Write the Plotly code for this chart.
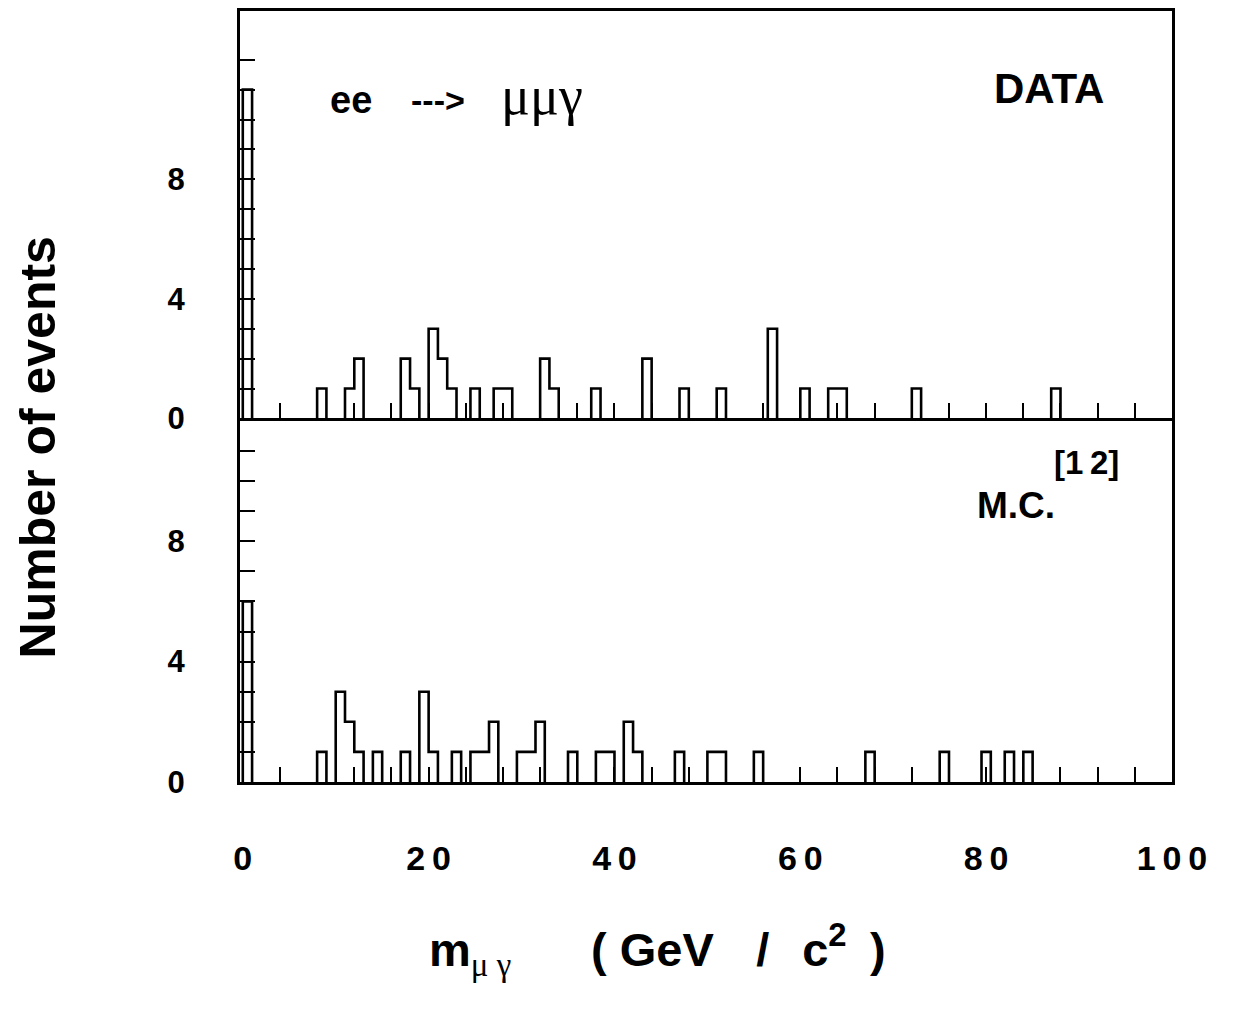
import plotly.graph_objects as go

# ---------------- data ----------------
bin_width = 1.0  # GeV

# DATA panel: start of each group of adjacent bins, and the counts in those bins
data_starts = [0, 8, 11, 17, 20, 24.5, 27, 32, 37.5, 43, 47, 51, 56.5, 60, 63, 72, 87]
data_counts = [[11], [1], [1, 2], [2, 1], [3, 2, 1], [1], [1, 1], [2, 1], [1], [2],
               [1], [1], [3], [1], [1, 1], [1], [1]]

# M.C. panel
mc_starts = [0, 8, 10, 14, 17, 19, 22.5, 24.5, 29.5, 35, 38, 41, 46.5, 50, 55, 67, 75,
             79.5, 82, 84]
mc_counts = [[6], [1], [3, 2, 1], [1], [1], [3, 1], [1], [1, 1, 2], [1, 1, 2], [1],
             [1, 1], [2, 1], [1], [1, 1], [1], [1], [1], [1], [1], [1]]

x_tick_vals = [0, 20, 40, 60, 80, 100]
x_tick_text = ["0", "2\u20090", "4\u20090", "6\u20090", "8\u20090", "1\u20090\u20090"]
y_tick_vals = [0, 4, 8]
y_tick_text = ["0", "4", "8"]
y_minor_top = [1, 2, 3, 5, 6, 7, 9, 10, 11, 12]
y_minor_bottom = [1, 2, 3, 5, 6, 7, 9, 10, 11]


def step_outline(starts, counts, w):
    xs, ys = [], []
    for s, c in zip(starts, counts):
        xs += [s, s] + [s + w * (i + 1) for i in range(len(c))]
        ys += [0] + list(c) + [0]
        xs.append(None)
        ys.append(None)
    return xs, ys


BOLD = "Liberation Sans"
NARROW = "Liberation Sans Narrow, Liberation Sans"
SERIF = "Liberation Serif"

fig = go.Figure()

xd, yd = step_outline(data_starts, data_counts, bin_width)
fig.add_trace(go.Scatter(x=xd, y=yd, mode="lines", line=dict(color="black", width=2.6, shape="hv"),
                         xaxis="x", yaxis="y", showlegend=False, hoverinfo="skip"))
xm, ym = step_outline(mc_starts, mc_counts, bin_width)
fig.add_trace(go.Scatter(x=xm, y=ym, mode="lines", line=dict(color="black", width=2.6, shape="hv"),
                         xaxis="x2", yaxis="y2", showlegend=False, hoverinfo="skip"))

split = 0.4716
common_x = dict(range=[-0.3, 100], showline=True, linecolor="black", linewidth=3,
                showgrid=False, zeroline=False, ticks="inside", ticklen=15, tickwidth=2,
                tickcolor="black", tickvals=x_tick_vals,
                minor=dict(dtick=4, tick0=0, ticks="inside", ticklen=15, tickwidth=2,
                           tickcolor="black", showgrid=False))
common_y = dict(showline=True, linecolor="black", linewidth=3, mirror=True, showgrid=False,
                zeroline=False, ticks="inside", ticklen=15, tickwidth=2, tickcolor="black",
                tickvals=y_tick_vals, ticktext=y_tick_text, ticklabelstandoff=46,
                tickfont=dict(family=BOLD, size=31, color="black", weight="bold"))

fig.update_layout(
    width=1218, height=996,
    margin=dict(l=232, r=54, t=0, b=222),
    paper_bgcolor="white", plot_bgcolor="white",
    xaxis=dict(**common_x, anchor="y", domain=[0, 1], mirror=True, showticklabels=False,
               matches="x2"),
    yaxis=dict(**common_y, anchor="x", domain=[split, 1], range=[0, 13.63],
               minor=dict(tickvals=y_minor_top, ticks="inside", ticklen=15, tickwidth=2,
                          tickcolor="black", showgrid=False)),
    xaxis2=dict(**common_x, anchor="y2", domain=[0, 1], mirror=False, ticktext=x_tick_text,
                ticklabelstandoff=44,
                tickfont=dict(family=NARROW, size=34, color="black", weight="bold")),
    yaxis2=dict(**common_y, anchor="x2", domain=[0, split], range=[0, 12.08],
                minor=dict(tickvals=y_minor_bottom, ticks="inside", ticklen=15, tickwidth=2,
                           tickcolor="black", showgrid=False)),
)

ann = [
    dict(text="ee", x=11.6, y=10.65, xref="x", yref="y",
         font=dict(family=BOLD, size=38, color="black", weight="bold")),
    dict(text="--->", x=21.0, y=10.65, xref="x", yref="y",
         font=dict(family=BOLD, size=34, color="black", weight="bold")),
    dict(text="μμγ", x=32.2, y=10.8, xref="x", yref="y",
         font=dict(family=SERIF, size=54, color="black")),
    dict(text="DATA", x=86.8, y=11.05, xref="x", yref="y",
         font=dict(family=BOLD, size=42, color="black", weight="bold")),
    dict(text="[1\u20092]", x=90.8, y=10.6, xref="x2", yref="y2",
         font=dict(family=BOLD, size=33, color="black", weight="bold")),
    dict(text="M.C.", x=83.2, y=9.2, xref="x2", yref="y2",
         font=dict(family=BOLD, size=37, color="black", weight="bold")),
    dict(text="Number of events", x=-0.2167, y=0.434, xref="paper", yref="paper",
         textangle=-90, font=dict(family=BOLD, size=50, color="black", weight="bold")),
    dict(text="m<sub><span style='font-family:Liberation Serif;font-weight:normal'>μ γ</span></sub>"
              "\u2003\u2002\u2009(\u00a0GeV\u2002\u2009\u2009/\u2002\u2009c<sup>2</sup>\u2002)",
         x=0.448, y=-0.217, xref="paper", yref="paper",
         font=dict(family=BOLD, size=47, color="black", weight="bold")),
]
for a in ann:
    a.update(showarrow=False, xanchor="center", yanchor="middle")
    fig.add_annotation(**a)

fig.write_html("out.html")
